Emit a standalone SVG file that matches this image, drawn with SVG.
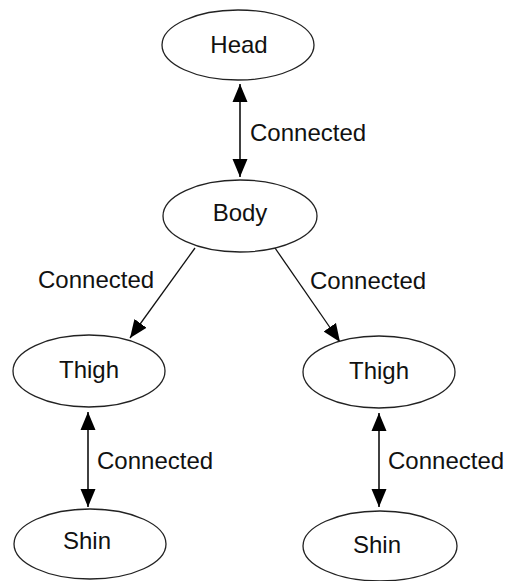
<svg xmlns="http://www.w3.org/2000/svg" width="506" height="581" viewBox="0 0 506 581">
  <style>
    .node ellipse { fill: #ffffff; stroke: #222222; stroke-width: 1.3; }
    .node text { font-family: "Liberation Sans", Arial, sans-serif; font-size: 24px; fill: #111111; text-anchor: middle; }
    .edge { stroke: #111111; stroke-width: 1.6; fill: none; }
    .edge.diag { stroke-width: 1.3; }
    .label { font-family: "Liberation Sans", Arial, sans-serif; font-size: 24px; fill: #111111; }
  </style>
  <defs>
    <marker id="arrow" markerUnits="userSpaceOnUse" markerWidth="19" markerHeight="16" refX="18" refY="8" orient="auto-start-reverse">
      <path d="M0,0.5 L18,8 L0,15.5 z" fill="#000000"/>
    </marker>
  </defs>
  <rect width="506" height="581" fill="#ffffff"/>

  <!-- arrows between parts, with their labels -->
  <g id="connectors">
    <line class="edge" x1="240" y1="84" x2="240" y2="177" marker-start="url(#arrow)" marker-end="url(#arrow)"/>
    <line class="edge diag" x1="195" y1="248" x2="130" y2="338" marker-end="url(#arrow)"/>
    <line class="edge diag" x1="275" y1="248" x2="340" y2="342" marker-end="url(#arrow)"/>
    <line class="edge" x1="88" y1="412" x2="88" y2="507" marker-start="url(#arrow)" marker-end="url(#arrow)"/>
    <line class="edge" x1="379" y1="413" x2="379" y2="507" marker-start="url(#arrow)" marker-end="url(#arrow)"/>
    <text class="label" x="250" y="141">Connected</text>
    <text class="label" x="38" y="288">Connected</text>
    <text class="label" x="310" y="289">Connected</text>
    <text class="label" x="97" y="469">Connected</text>
    <text class="label" x="388" y="469">Connected</text>
  </g>

  <g id="head" class="node">
    <ellipse cx="238" cy="45" rx="76" ry="35"/>
    <text x="239" y="53">Head</text>
  </g>
  <g id="body" class="node">
    <ellipse cx="240" cy="216" rx="77" ry="36"/>
    <text x="240" y="221">Body</text>
  </g>
  <g id="thigh-left" class="node">
    <ellipse cx="89" cy="371" rx="76" ry="36"/>
    <text x="89" y="378">Thigh</text>
  </g>
  <g id="thigh-right" class="node">
    <ellipse cx="379" cy="372" rx="76" ry="36"/>
    <text x="379" y="379">Thigh</text>
  </g>
  <g id="shin-left" class="node">
    <ellipse cx="90" cy="544" rx="76" ry="35"/>
    <text x="87" y="549">Shin</text>
  </g>
  <g id="shin-right" class="node">
    <ellipse cx="380" cy="546" rx="77" ry="35"/>
    <text x="377" y="553">Shin</text>
  </g>
</svg>
